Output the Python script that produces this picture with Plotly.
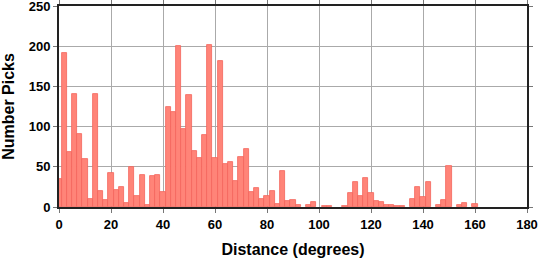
import plotly.graph_objects as go

# Histogram of picks vs distance, 2-degree bins centred on even degrees
bin_centers = list(range(0, 182, 2))
counts = [35, 192, 68, 140, 91, 60, 10, 141, 20, 9,
          42, 21, 25, 5, 50, 14, 40, 2, 38, 40,
          19, 125, 118, 200, 97, 139, 70, 61, 90, 202,
          61, 181, 54, 56, 32, 62, 72, 19, 24, 10,
          14, 20, 4, 45, 8, 9, 3, 0, 3, 6,
          0, 1, 1, 0, 0, 1, 17, 31, 14, 36,
          18, 7, 6, 3, 2, 1, 1, 0, 10, 25,
          12, 31, 0, 2, 9, 51, 0, 2, 5, 0,
          4, 0, 0, 0, 0, 0, 0, 0, 0, 0, 0]
x_ticks = [0, 20, 40, 60, 80, 100, 120, 140, 160, 180]
y_ticks = [0, 50, 100, 150, 200, 250]

# empty bins are not drawn
bar_heights = [c if c > 0 else None for c in counts]

fig = go.Figure()
fig.add_trace(go.Bar(
    x=bin_centers, y=bar_heights, width=2,
    marker=dict(color="#ff8478", line=dict(color="#f4645a", width=0.8)),
))

font_family = "Liberation Sans, Arial, sans-serif"
axis_common = dict(
    showline=True, linecolor="#222222", linewidth=2, mirror="ticks",
    ticks="outside", ticklen=4, tickcolor="#777777", tickwidth=1,
    showgrid=True, gridcolor="#aaaaaa", gridwidth=1, zeroline=False,
    automargin=False, ticklabeloverflow="allow",
    tickfont=dict(family=font_family, size=13, color="black", weight="bold"),
)
fig.update_xaxes(range=[0, 180], tickvals=x_ticks,
                 title=dict(text="Distance (degrees)", standoff=14,
                            font=dict(family=font_family, size=16, color="black", weight="bold")),
                 **axis_common)
fig.update_yaxes(range=[0, 250], tickvals=y_ticks,
                 title=dict(text="Number Picks", standoff=12,
                            font=dict(family=font_family, size=16, color="black", weight="bold")),
                 **axis_common)
fig.update_layout(
    width=538, height=258,
    margin=dict(l=59, r=11, t=6, b=51),
    plot_bgcolor="white", paper_bgcolor="white",
    showlegend=False, bargap=0,
)
fig.write_html("out.html")
